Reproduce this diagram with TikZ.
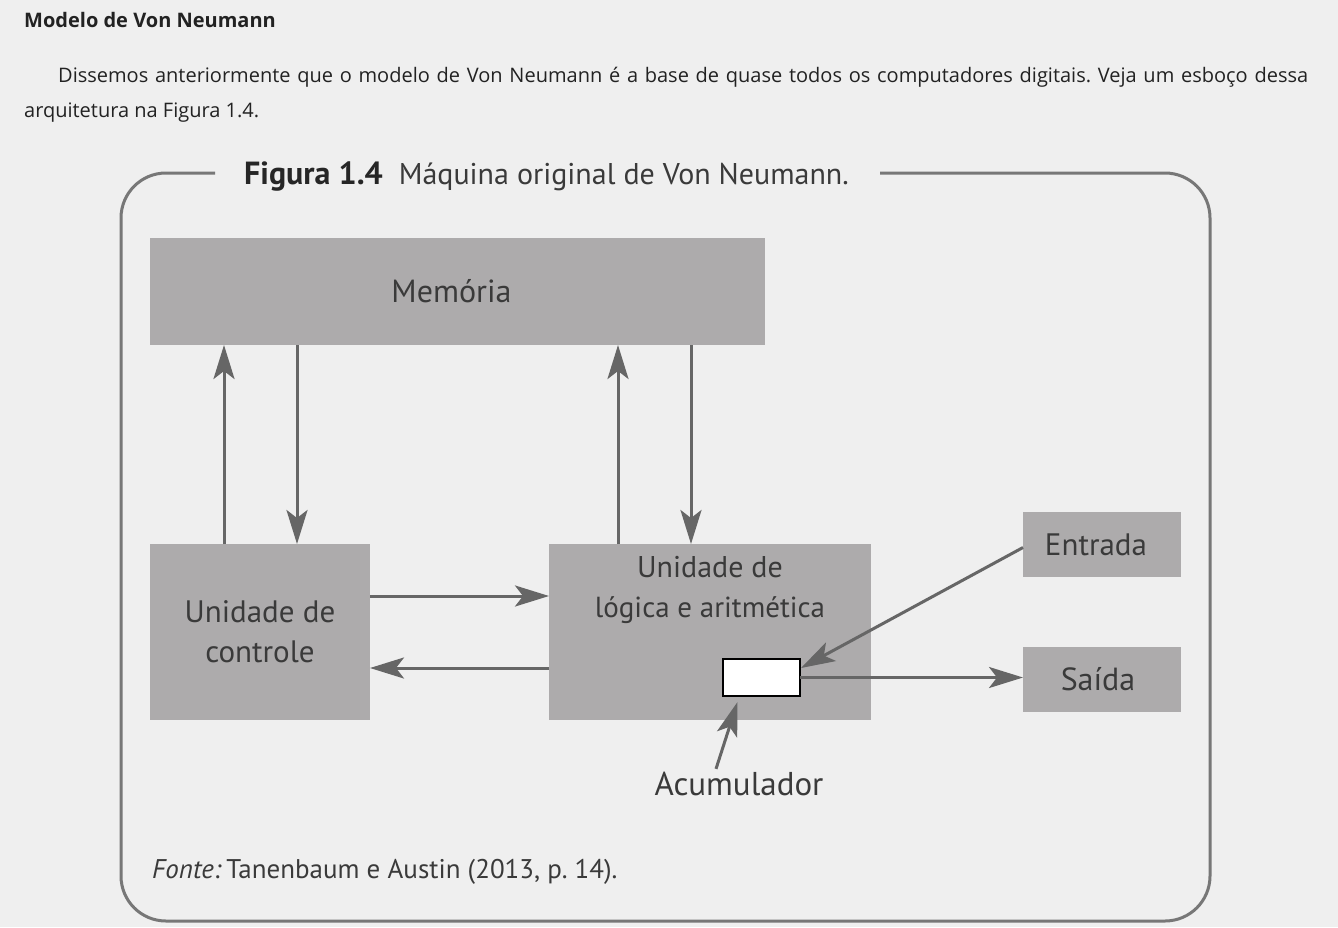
\documentclass[tikz,border=0pt]{standalone}
\usepackage{fontspec}
\setmainfont{Open Sans}
\newfontfamily\figfont{PT Sans}
\usetikzlibrary{arrows.meta,calc}
\definecolor{bgc}{HTML}{EFEFEF}
\definecolor{boxc}{HTML}{ADABAC}
\definecolor{arrc}{HTML}{666666}
\definecolor{framec}{HTML}{777777}
\definecolor{figtext}{HTML}{3A3A3A}
\definecolor{headtext}{HTML}{222222}
\newcommand{\fsz}[1]{\figfont\fontsize{#1}{40}\selectfont}
\frenchspacing
\begin{document}
\begin{tikzpicture}[x=1pt,y=-1pt,
  blk/.style={fill=boxc, inner sep=0pt, outer sep=0pt, text=figtext, font=\fsz{32}, align=center},
  lbl/.style={inner sep=0pt, text=figtext, font=\fsz{32}, align=center},
  arr/.style={draw=arrc, line width=3pt, -{Stealth[length=34pt, width=21pt, inset=8pt]}},
  frm/.style={draw=framec, line width=3pt, rounded corners=45pt},
  head/.style={inner sep=0pt, text=headtext, anchor=base west}]
\fill[bgc] (0,0) rectangle (1338,927);
\useasboundingbox (0,0) rectangle (1338,927);
% header
\node[head, font=\bfseries\fontsize{20}{24}\selectfont] (h1) at (24,27) {Modelo de Von Neumann};
\node[head, font=\fontsize{20}{24}\selectfont] (p1) at (58,82) {\makebox[1250pt][s]{Dissemos anteriormente que o modelo de Von Neumann é a base de quase todos os computadores digitais. Veja um esboço dessa}};
\node[head, font=\fontsize{20}{24}\selectfont] (p2) at (24,117) {arquitetura na Figura 1.4.};
% frame
\draw[frm] (215,173) -- (121,173) -- (121,921) -- (1210,921) -- (1210,173) -- (880,173);
\node[inner sep=0pt, anchor=base west, text=black!85, font=\figfont] (title) at (244,184) {{\fontsize{32}{38}\selectfont\textbf{Figura 1.4}}\hspace{16pt}{\fontsize{30}{38}\selectfont\color{figtext}Máquina original de Von Neumann.}};
% blocks
\node[blk, minimum width=615pt, minimum height=107pt] (mem) at (457.5,291.5) {\hspace*{-12pt}Memória};
\node[blk, font=\fsz{31}, minimum width=220pt, minimum height=176pt] (cu) at (260,632) {Unidade de\\controle};
\node[blk, minimum width=322pt, minimum height=176pt] (ula) at (710,632) {};
\node[lbl, font=\fsz{29}] (ulat) at (710,590) {{\fontsize{30}{40}\selectfont Unidade de}\\lógica e aritmética};
\node[blk, font=\fsz{31}, minimum width=158pt, minimum height=65pt] (ent) at (1102,544.5) {\hspace*{-12pt}Entrada};
\node[blk, minimum width=158pt, minimum height=65pt] (sai) at (1102,679.5) {\hspace*{-8pt}Saída};
\node[draw=black, fill=white, line width=2.5pt, inner sep=0pt, outer sep=0pt, minimum width=77pt, minimum height=37pt] (acc) at (761.5,677.5) {};
\node[lbl, font=\fsz{33}] (accl) at (739,784) {Acumulador};
% arrows
\draw[arr] ([xshift=-36pt]cu.north) -- ([xshift=-36pt]cu.north |- mem.south);
\draw[arr] ([xshift=37pt]cu.north |- mem.south) -- ([xshift=37pt]cu.north);
\draw[arr] ([xshift=-92pt]ula.north) -- ([xshift=-92pt]ula.north |- mem.south);
\draw[arr] ([xshift=-19pt]ula.north |- mem.south) -- ([xshift=-19pt]ula.north);
\draw[arr] ([yshift=36pt]cu.east) -- ([yshift=36pt]cu.east -| ula.west);
\draw[arr] ([yshift=-36pt]cu.east -| ula.west) -- ([yshift=-36pt]cu.east);
\draw[arr] ([yshift=-3pt]ent.west) -- ([xshift=1pt,yshift=-9pt]acc.north east);
\draw[arr] (acc.east) -- (acc.east -| sai.west);
\draw[arr] ([xshift=-23pt,yshift=3pt]accl.north) -- ([xshift=-24pt,yshift=-6pt]acc.south);
% source
\node[inner sep=0pt, anchor=base west, text=figtext, font=\fsz{27}] (src) at (152,878) {\textit{Fonte:}\,Tanenbaum e Austin (2013, p. 14).};
\end{tikzpicture}
\end{document}
